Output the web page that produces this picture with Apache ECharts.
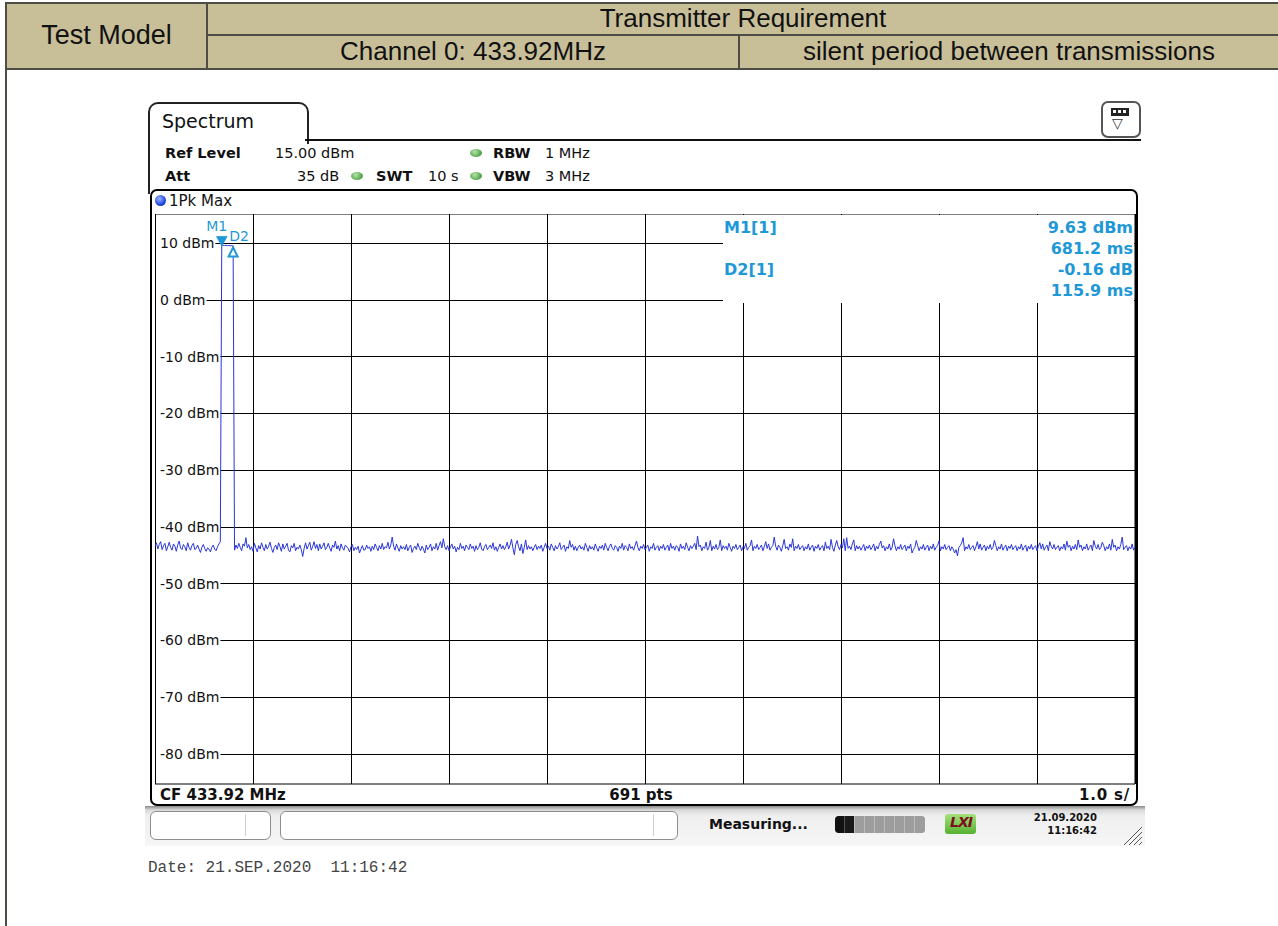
<!DOCTYPE html>
<html><head><meta charset="utf-8">
<script src="https://cdn.jsdelivr.net/npm/echarts@6/dist/echarts.min.js"></script>
<style>
html,body{margin:0;padding:0;}
body{width:1278px;height:926px;background:#fff;position:relative;overflow:hidden;font-family:"DejaVu Sans",sans-serif;color:#111;}
.a{position:absolute;}
.hd{position:absolute;font-family:"Liberation Sans",Arial,sans-serif;font-size:26px;color:#111;text-align:center;white-space:nowrap;}
.b{font-weight:bold;}
.t13{font-size:14.5px;line-height:18px;white-space:nowrap;}
.dot{position:absolute;width:12px;height:8px;border-radius:50%;background:radial-gradient(circle at 40% 35%,#b6e3a8,#4fa34a 70%,#3d7d38);}
</style></head><body>
<!-- header table -->
<div class="a" style="left:5px;top:2px;width:1273px;height:64px;background:#c8bf99;border-top:2px solid #4d4d45;border-bottom:2px solid #4d4d45;border-left:2px solid #4d4d45;"></div>
<div class="a" style="left:206px;top:2px;width:2px;height:68px;background:#4d4d45;"></div>
<div class="a" style="left:207px;top:34px;width:1071px;height:2px;background:#4d4d45;"></div>
<div class="a" style="left:738px;top:35px;width:2px;height:33px;background:#4d4d45;"></div>
<div class="hd" style="left:7px;top:19px;width:199px;line-height:32px;font-size:27px;">Test Model</div>
<div class="hd" style="left:208px;top:3px;width:1070px;line-height:30px;">Transmitter Requirement</div>
<div class="hd" style="left:208px;top:36px;width:530px;line-height:30px;">Channel 0: 433.92MHz</div>
<div class="hd" style="left:740px;top:36px;width:538px;line-height:30px;">silent period between transmissions</div>
<div class="a" style="left:5px;top:68px;width:2px;height:858px;background:#4d4d45;"></div>

<!-- instrument window -->
<div class="a" style="left:148px;top:102px;width:157px;height:40px;border:2px solid #222;border-bottom:none;border-radius:10px 10px 0 0;background:#fff;"></div>
<div class="a" style="left:305px;top:139px;width:836px;height:2px;background:#111;"></div>
<div class="a" style="left:148px;top:138px;width:2px;height:56px;background:#222;"></div>
<div class="a" style="left:162px;top:109px;font-size:19px;line-height:24px;">Spectrum</div>
<div class="a" style="left:1101px;top:101px;width:36px;height:33px;border:2px solid #555;border-radius:7px;background:#fff;"></div>
<div class="a" style="left:1111px;top:108px;width:16px;height:6px;background:#222;border:1px solid #222;"></div>
<div class="a" style="left:1113px;top:110px;width:3px;height:3px;background:#fff;"></div>
<div class="a" style="left:1118px;top:110px;width:3px;height:3px;background:#fff;"></div>
<div class="a" style="left:1123px;top:110px;width:3px;height:3px;background:#fff;"></div>
<div class="a" style="left:1112px;top:115px;font-size:14px;color:#333;">▽</div>

<div class="a t13 b" style="left:165px;top:144px;">Ref Level</div>
<div class="a t13" style="left:275px;top:144px;">15.00 dBm</div>
<div class="dot" style="left:470px;top:149px;"></div>
<div class="a t13 b" style="left:493px;top:144px;">RBW</div>
<div class="a t13" style="left:545px;top:144px;">1 MHz</div>
<div class="a t13 b" style="left:165px;top:167px;">Att</div>
<div class="a t13" style="left:297px;top:167px;">35 dB</div>
<div class="dot" style="left:351px;top:172px;"></div>
<div class="a t13 b" style="left:376px;top:167px;">SWT</div>
<div class="a t13" style="left:428px;top:167px;">10 s</div>
<div class="dot" style="left:470px;top:172px;"></div>
<div class="a t13 b" style="left:493px;top:167px;">VBW</div>
<div class="a t13" style="left:545px;top:167px;">3 MHz</div>

<div class="a" style="left:150px;top:189px;width:984px;height:613px;border:2px solid #000;border-radius:7px;background:#fff;"></div>
<div class="a" style="left:155px;top:195px;width:11px;height:11px;border-radius:50%;background:radial-gradient(circle at 40% 35%,#9bb6ff,#1b3fe0 65%,#0a1f80);"></div>
<div class="a t13" style="left:169px;top:192px;font-size:15px;">1Pk Max</div>
<div class="a b" style="left:160px;top:786px;font-size:15px;line-height:18px;white-space:nowrap;">CF 433.92 MHz</div>
<div class="a b" style="left:580px;top:786px;width:122px;text-align:center;font-size:15px;line-height:18px;white-space:nowrap;">691 pts</div>
<div class="a b" style="left:1030px;top:786px;width:100px;text-align:right;font-size:15px;line-height:18px;white-space:nowrap;letter-spacing:0.8px;">1.0 s/</div>

<div id="chart" class="a" style="left:155px;top:214px;width:981px;height:571px;"></div>

<!-- status bar -->
<div class="a" style="left:145px;top:806px;width:1000px;height:40px;background:linear-gradient(to bottom,#8a8a8a 0px,#d9d9d9 4px,#efefef 10px,#f6f6f6 100%);"></div>
<div class="a" style="left:150px;top:811px;width:119px;height:27px;background:#fff;border:1px solid #8d8d8d;border-radius:6px;"></div>
<div class="a" style="left:245px;top:814px;width:1px;height:22px;background:#d0d0d0;"></div>
<div class="a" style="left:280px;top:811px;width:396px;height:27px;background:#fff;border:1px solid #8d8d8d;border-radius:6px;"></div>
<div class="a" style="left:653px;top:814px;width:1px;height:22px;background:#d0d0d0;"></div>
<div class="a b" style="left:709px;top:815px;font-size:14px;line-height:18px;white-space:nowrap;">Measuring...</div>
<div class="a" style="left:835px;top:816px;width:90px;height:17px;border-radius:4px;background:#9a9a9a;display:flex;overflow:hidden;">
<span style="width:9px;background:#111;border-right:1px solid #555;"></span><span style="width:9px;background:#1a1a1a;border-right:1px solid #bbb;"></span><span style="width:9px;background:#9d9d9d;border-right:1px solid #bbb;"></span><span style="width:9px;background:#9d9d9d;border-right:1px solid #bbb;"></span><span style="width:9px;background:#9d9d9d;border-right:1px solid #bbb;"></span><span style="width:9px;background:#9d9d9d;border-right:1px solid #bbb;"></span><span style="width:9px;background:#9d9d9d;border-right:1px solid #bbb;"></span><span style="width:9px;background:#9d9d9d;border-right:1px solid #bbb;"></span><span style="width:10px;background:#9d9d9d;"></span></div>
<div class="a" style="left:945px;top:814px;width:31px;height:20px;border-radius:3px;background:linear-gradient(#a6e07c,#56b232);"></div>
<div class="a b" style="left:947px;top:814px;width:28px;text-align:center;font-size:14px;font-style:italic;color:#7a1020;letter-spacing:-1px;">LXI</div>
<div class="a b" style="left:1010px;top:811px;width:87px;text-align:right;font-size:10px;line-height:13px;">21.09.2020<br>11:16:42</div>
<svg class="a" style="left:1120px;top:822px;" width="24" height="24"><g stroke="#555" stroke-width="1"><line x1="4" y1="23" x2="22" y2="5"/><line x1="9" y1="23" x2="22" y2="10"/><line x1="14" y1="23" x2="22" y2="15"/><line x1="19" y1="23" x2="22" y2="20"/></g></svg>

<div class="a" style="left:148px;top:858px;font-family:'Liberation Mono',monospace;font-size:16px;line-height:20px;color:#444;white-space:pre;">Date: 21.SEP.2020  11:16:42</div>

<script>
// ---- data ----
const sweepTime = 10;           // s, 1.0 s/div
const refTop = 15, refBottom = -85;
const yTickValues = [10, 0, -10, -20, -30, -40, -50, -60, -70, -80];
const noiseBefore = [
-43.4,-42.8,-43.9,-43.1,-42.6,-44.0,-43.3,-42.9,-44.2,-43.5,
-42.7,-43.6,-44.1,-43.0,-43.4,-44.3,-43.2,-42.5,-43.7,-44.0,
-43.1,-43.5,-44.2,-42.8,-43.6,-44.1,-43.3,-42.9,-44.0,-43.8,
-43.2,-43.9,-44.5,-43.6,-43.1,-43.8,-44.3,-43.7,-43.9,-44.4,
-43.6,-43.2,-43.9,-44.2,-43.5,-43.0,-42.6];
const pulseTop = [9.63,9.58,9.55,9.60,9.52,9.57,9.50,9.54,9.47];
const noiseAfter = [
-44.1,-43.2,-43.8,-42.9,-43.6,-44.2,-43.0,-43.4,-41.9,-43.7,
-43.1,-44.0,-43.5,-44.3,-42.9,-43.7,-44.4,-43.3,-43.9,-42.8,
-43.6,-44.2,-43.1,-43.9,-43.4,-42.7,-43.8,-44.5,-43.6,-43.2,
-44.0,-42.8,-43.5,-44.3,-43.0,-43.9,-43.4,-42.9,-44.1,-44.4,
-43.3,-43.7,-42.9,-44.2,-43.6,-43.9,-43.2,-44.0,-45.2,-43.8,
-42.8,-43.9,-43.3,-42.7,-44.1,-43.5,-42.6,-43.8,-43.1,-44.2,
-43.0,-43.9,-43.4,-42.8,-44.0,-43.6,-42.9,-43.7,-44.3,-43.2,
-43.6,-42.5,-43.9,-43.3,-44.2,-43.0,-43.7,-44.1,-43.2,-43.5,
-43.8,-44.4,-43.5,-43.1,-44.2,-43.6,-44.0,-43.4,-44.6,-43.9,
-43.3,-44.1,-44.0,-43.2,-43.8,-43.5,-44.3,-43.4,-44.0,-43.0,
-43.6,-44.2,-43.3,-43.9,-42.9,-44.0,-43.5,-43.7,-42.7,-43.9,
-43.2,-41.8,-43.4,-44.1,-43.0,-43.7,-44.3,-43.3,-43.9,-43.5,
-44.0,-43.1,-44.2,-43.6,-43.2,-44.5,-43.8,-43.4,-44.0,-42.9,
-43.6,-44.2,-43.4,-43.9,-44.6,-43.2,-44.0,-43.6,-43.0,-44.2,
-43.5,-43.9,-42.9,-44.1,-43.3,-42.6,-43.7,-42.1,-43.5,-44.0,
-43.3,-44.2,-43.6,-43.0,-43.9,-43.4,-44.4,-43.6,-44.0,-42.9,
-43.8,-43.4,-44.2,-43.2,-43.6,-44.0,-43.0,-43.8,-43.4,-44.3,
-43.3,-44.0,-43.6,-42.8,-43.9,-44.2,-43.5,-43.1,-44.0,-43.6,
-43.2,-43.8,-42.8,-44.1,-43.5,-44.3,-43.6,-43.0,-43.9,-43.3,
-44.0,-43.5,-42.7,-43.9,-43.2,-42.2,-43.7,-44.9,-43.1,-42.4,
-43.5,-44.2,-43.0,-44.7,-43.6,-42.3,-44.0,-43.3,-43.9,-43.5,
-44.2,-43.6,-43.1,-44.0,-43.4,-43.8,-43.2,-44.3,-43.6,-42.9,
-43.8,-43.4,-44.1,-43.0,-43.6,-44.2,-43.3,-43.9,-43.5,-42.8,
-44.0,-43.6,-43.2,-44.3,-43.5,-43.8,-42.4,-43.6,-43.1,-44.1,
-43.4,-44.2,-43.6,-43.2,-43.9,-43.5,-44.1,-42.9,-43.6,-44.3,
-43.3,-43.9,-43.5,-44.1,-43.0,-43.7,-44.3,-43.4,-43.8,-43.2,
-44.1,-42.9,-43.6,-44.2,-43.4,-43.0,-43.8,-44.1,-43.3,-43.6,
-44.3,-43.4,-43.8,-42.9,-44.1,-43.3,-43.6,-44.2,-43.0,-43.8,
-43.5,-44.1,-43.3,-42.5,-43.6,-44.2,-43.4,-43.8,-43.1,-44.0,
-43.6,-43.2,-44.3,-43.5,-43.8,-42.9,-44.1,-43.6,-43.3,-44.2,
-43.4,-43.8,-43.1,-44.1,-43.6,-43.2,-44.2,-42.9,-43.8,-43.4,
-44.1,-43.3,-43.6,-44.3,-43.0,-43.8,-43.4,-44.0,-42.8,-43.6,
-44.2,-43.3,-43.8,-43.4,-42.9,-44.0,-41.6,-43.5,-43.2,-44.2,
-43.5,-43.8,-42.7,-44.1,-43.6,-42.4,-44.2,-43.4,-43.9,-43.1,
-44.0,-43.6,-42.3,-44.2,-43.3,-43.8,-43.4,-44.1,-42.9,-43.6,
-44.3,-43.4,-43.8,-43.1,-44.0,-43.6,-43.2,-44.2,-43.5,-43.8,
-42.9,-44.1,-43.6,-43.3,-42.3,-44.2,-43.4,-43.8,-43.1,-44.0,
-43.6,-43.2,-44.2,-43.5,-42.6,-43.8,-43.0,-44.1,-43.6,-43.3,
-41.8,-43.4,-44.1,-43.2,-43.6,-44.3,-43.3,-42.2,-43.8,-43.5,
-44.1,-43.0,-43.6,-42.1,-44.2,-43.4,-43.8,-43.1,-44.0,-43.6,
-43.3,-44.2,-43.5,-43.9,-43.0,-44.1,-43.6,-43.2,-44.3,-43.4,
-43.8,-43.1,-44.1,-43.6,-43.3,-44.2,-42.7,-43.8,-43.4,-44.0,
-42.2,-43.6,-44.3,-43.2,-42.4,-43.5,-44.0,-43.1,-43.7,-42.1,
-44.2,-41.9,-43.8,-43.4,-44.0,-43.0,-42.3,-44.2,-43.3,-43.9,
-43.4,-44.1,-43.6,-43.1,-44.2,-43.4,-43.8,-43.2,-44.0,-43.6,
-43.0,-44.2,-43.4,-43.9,-43.1,-42.5,-43.7,-43.3,-44.2,-43.5,
-43.9,-43.0,-44.1,-43.6,-42.1,-43.3,-44.2,-43.5,-43.9,-43.1,
-44.0,-43.6,-43.2,-44.2,-43.4,-43.8,-43.0,-44.6,-44.0,-43.6,
-42.4,-43.3,-44.2,-43.5,-43.9,-43.1,-44.1,-43.6,-43.2,-44.2,
-43.4,-43.9,-43.0,-44.1,-43.6,-43.3,-42.5,-44.2,-43.5,-43.9,
-43.1,-44.0,-43.6,-43.3,-44.2,-43.5,-43.9,-44.6,-44.0,-45.1,
-43.6,-43.3,-42.8,-41.9,-44.2,-43.5,-43.9,-43.1,-44.0,-43.6,
-43.3,-44.2,-43.5,-42.6,-43.9,-43.0,-44.1,-43.6,-43.2,-44.2,
-43.4,-43.9,-43.1,-44.0,-43.6,-42.4,-43.3,-44.2,-43.5,-43.9,
-43.0,-44.1,-43.6,-43.2,-44.2,-43.4,-43.8,-43.1,-44.0,-43.6,
-43.3,-44.2,-43.5,-43.9,-43.0,-44.1,-43.6,-43.2,-44.3,-43.4,
-43.9,-43.1,-44.0,-43.6,-43.3,-44.2,-43.4,-42.8,-43.9,-43.0,
-44.1,-43.6,-43.2,-44.2,-42.6,-43.4,-43.9,-43.1,-44.0,-43.6,
-43.3,-44.2,-43.5,-43.9,-43.0,-44.1,-42.5,-43.6,-43.2,-44.2,
-43.4,-43.9,-43.1,-44.0,-42.3,-43.6,-43.2,-44.2,-43.5,-43.9,
-43.0,-44.1,-43.6,-43.2,-44.2,-42.4,-43.4,-43.9,-43.1,-44.0,
-43.6,-42.7,-43.3,-44.2,-43.5,-43.9,-43.0,-44.1,-42.2,-43.6,
-43.2,-44.2,-43.5,-43.9,-43.1,-41.8,-44.0,-43.6,-43.3,-44.2,
-43.5,-43.9,-43.0,-44.1,-43.6];
const markerNames = ['M1', 'D2'];
const markerTimes = [0.6812, 0.7971];     // s
const markerLevels = [9.63, 9.47];        // dBm
const markerReadName = ['M1[1]', 'D2[1]'];
const markerReadLevel = ['9.63 dBm', '-0.16 dB'];
const markerReadTime = ['681.2 ms', '115.9 ms'];

// ---- chart ----
const trace = noiseBefore.concat(pulseTop, noiseAfter);
const nPts = trace.length;
const seriesData = trace.map((v, i) => [i * sweepTime / (nPts - 1), v]);
const mkColor = '#1f98d8';
const chart = echarts.init(document.getElementById('chart'), null, {renderer: 'svg'});
const ff = '"DejaVu Sans", Verdana, sans-serif';
const graphic = [{type: 'rect', x: 568, y: 1, shape: {width: 411, height: 88}, style: {fill: '#fff'}, z: 50}];
markerReadName.forEach((n, k) => {
  const y0 = 13 + k * 42;
  graphic.push({type: 'text', x: 569, y: y0, z: 51, style: {text: n, fill: mkColor, font: 'bold 16px ' + ff, align: 'left', verticalAlign: 'middle'}});
  graphic.push({type: 'text', x: 978, y: y0, z: 51, style: {text: markerReadLevel[k], fill: mkColor, font: 'bold 16px ' + ff, align: 'right', verticalAlign: 'middle'}});
  graphic.push({type: 'text', x: 978, y: y0 + 21, z: 51, style: {text: markerReadTime[k], fill: mkColor, font: 'bold 16px ' + ff, align: 'right', verticalAlign: 'middle'}});
});
chart.setOption({
  animation: false,
  grid: [
    {left: 0, right: 1, top: 29, bottom: 31, containLabel: false, outerBoundsMode: 'none'},
    {left: 0, right: 1, top: 0, bottom: 1, show: true, borderColor: '#000', borderWidth: 1, backgroundColor: 'transparent', containLabel: false, outerBoundsMode: 'none'}
  ],
  xAxis: [
    {gridIndex: 0, type: 'value', min: 0, max: sweepTime, show: false},
    {gridIndex: 1, type: 'value', min: 0, max: sweepTime, interval: 1,
     axisLine: {show: false}, axisTick: {show: false}, axisLabel: {show: false},
     splitLine: {show: true, lineStyle: {color: '#000', width: 1}}}
  ],
  yAxis: [
    {gridIndex: 0, type: 'value', position: 'left', min: -80, max: 10, interval: 10, z: 1,
     axisLine: {show: false}, axisTick: {show: false}, axisLabel: {show: false},
     splitLine: {show: true, lineStyle: {color: '#000', width: 1}}},
    {gridIndex: 0, type: 'value', position: 'left', min: -80, max: 10, interval: 10, z: 5,
     axisLine: {show: false}, axisTick: {show: false}, splitLine: {show: false},
     axisLabel: {show: true, inside: true, margin: 1, align: 'left', color: '#111', fontSize: 14, fontFamily: ff,
       backgroundColor: '#fff', padding: [1, 1, 1, 4],
       customValues: yTickValues, formatter: v => v + ' dBm'}},
    {gridIndex: 1, type: 'value', min: refBottom, max: refTop, show: false}
  ],
  graphic: graphic,
  series: [{
    type: 'line', xAxisIndex: 0, yAxisIndex: 0, z: 10,
    data: seriesData, showSymbol: false, symbol: 'none',
    lineStyle: {color: '#2a36d6', width: 1}, itemStyle: {color: '#2a36d6'},
    markPoint: {
      silent: true, z: 20,
      data: markerNames.map((nm, k) => ({
        name: nm, coord: [markerTimes[k], markerLevels[k]],
        symbol: k === 0 ? 'triangle' : 'emptyTriangle',
        symbolRotate: k === 0 ? 180 : 0,
        symbolSize: k === 0 ? [10, 9] : [9, 9],
        symbolOffset: k === 0 ? [0, -4] : [0, 6],
        itemStyle: {color: mkColor, borderColor: mkColor, borderWidth: 1},
        label: {show: true, formatter: nm, position: 'top', distance: k === 0 ? 3 : 4,
          offset: k === 0 ? [-5, 0] : [6, 0], color: mkColor, fontSize: 14, fontFamily: ff}
      }))
    }
  }]
});
</script>
</body></html>
